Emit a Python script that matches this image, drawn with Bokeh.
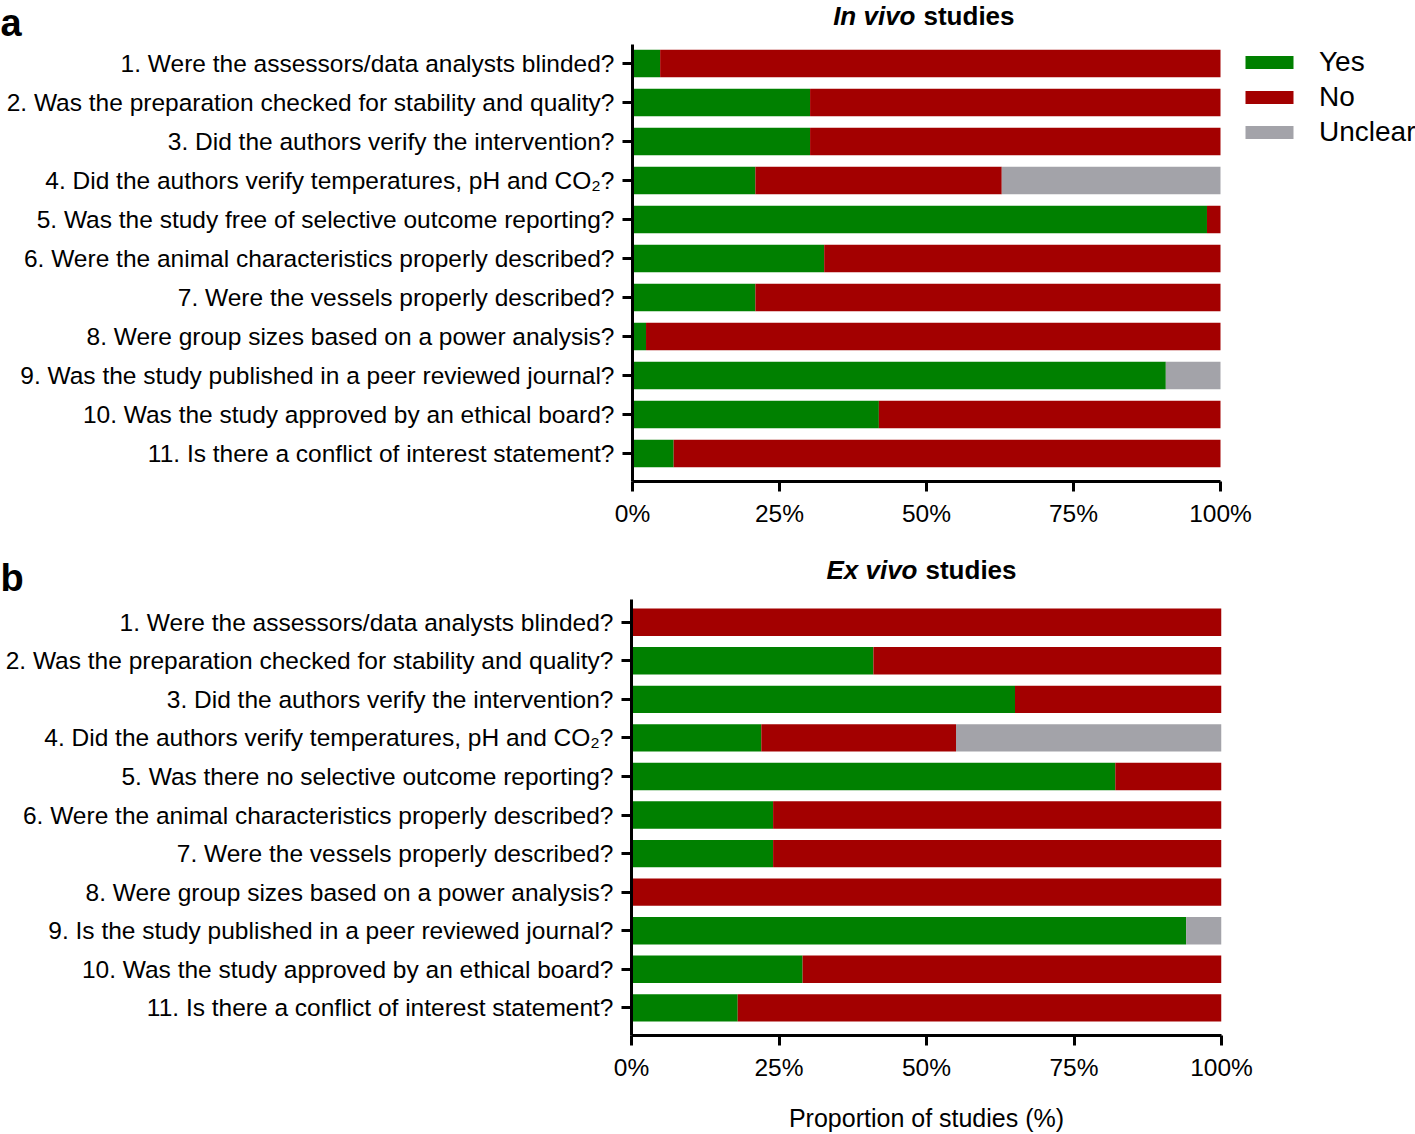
from bokeh.plotting import figure
from bokeh.models import Range1d, FixedTicker, Legend, LegendItem, ColumnDataSource
from bokeh.layouts import column, row
from bokeh.embed import file_html
from bokeh.resources import INLINE
from bokeh.core.properties import value

# ---------------- data ----------------
questions_a = [
    "1. Were the assessors/data analysts blinded?",
    "2. Was the preparation checked for stability and quality?",
    "3. Did the authors verify the intervention?",
    "4. Did the authors verify temperatures, pH and CO\u2082?",
    "5. Was the study free of selective outcome reporting?",
    "6. Were the animal characteristics properly described?",
    "7. Were the vessels properly described?",
    "8. Were group sizes based on a power analysis?",
    "9. Was the study published in a peer reviewed journal?",
    "10. Was the study approved by an ethical board?",
    "11. Is there a conflict of interest statement?",
]
questions_b = [
    "1. Were the assessors/data analysts blinded?",
    "2. Was the preparation checked for stability and quality?",
    "3. Did the authors verify the intervention?",
    "4. Did the authors verify temperatures, pH and CO\u2082?",
    "5. Was there no selective outcome reporting?",
    "6. Were the animal characteristics properly described?",
    "7. Were the vessels properly described?",
    "8. Were group sizes based on a power analysis?",
    "9. Is the study published in a peer reviewed journal?",
    "10. Was the study approved by an ethical board?",
    "11. Is there a conflict of interest statement?",
]
yes_a = [4.7, 30.2, 30.2, 20.9, 97.7, 32.6, 20.9, 2.3, 90.7, 41.9, 7.0]
no_a = [95.3, 69.8, 69.8, 41.9, 2.3, 67.4, 79.1, 97.7, 0.0, 58.1, 93.0]
unclear_a = [0.0, 0.0, 0.0, 37.2, 0.0, 0.0, 0.0, 0.0, 9.3, 0.0, 0.0]

yes_b = [0.0, 41.0, 65.0, 22.0, 82.0, 24.0, 24.0, 0.0, 94.0, 29.0, 18.0]
no_b = [100.0, 59.0, 35.0, 33.0, 18.0, 76.0, 76.0, 100.0, 0.0, 71.0, 82.0]
unclear_b = [0.0, 0.0, 0.0, 45.0, 0.0, 0.0, 0.0, 0.0, 6.0, 0.0, 0.0]

series = ["Yes", "No", "Unclear"]
colors = ["#008000", "#a30000", "#a3a3a9"]
pct_ticks = [0, 25, 50, 75, 100]
pct_labels = ["0%", "25%", "50%", "75%", "100%"]

title_a = ("In vivo", "studies")
title_b = ("Ex vivo", "studies")
x_label = "Proportion of studies (%)"

FONT = "Liberation Sans"
W = 1415


def strip(letter, title, height, title_mid, title_gap_x, letter_mid):
    """Header strip holding the panel letter and the mixed-style title."""
    s = figure(width=W, height=height, x_range=Range1d(0, W),
               y_range=Range1d(height, 0), output_backend="svg",
               toolbar_location=None, x_axis_location=None,
               y_axis_location=None, min_border=0)
    s.outline_line_color = None
    s.xgrid.visible = False
    s.ygrid.visible = False
    s.text(x=[0], y=[letter_mid], text=[letter], text_font=value(FONT),
           text_font_style="bold", text_font_size="38px",
           text_align="left", text_baseline="middle", text_color="black")
    s.text(x=[title_gap_x], y=[title_mid], text=[title[0]],
           text_font=value(FONT), text_font_style="bold italic",
           text_font_size="26px", text_align="right",
           text_baseline="middle", x_offset=-4, text_color="black")
    s.text(x=[title_gap_x], y=[title_mid], text=[title[1]],
           text_font=value(FONT), text_font_style="bold",
           text_font_size="26px", text_align="left",
           text_baseline="middle", x_offset=4, text_color="black")
    return s


def panel(questions, yes, no, unclear, height, x0_px, x100_px, right_px,
          row1_px, step_px, axis_bottom_px, legend_at=None, xlabel=None):
    n = len(questions)
    ppu = (x100_px - x0_px) / 100.0

    def ydat(px):
        return 1 + (px - row1_px) / step_px

    p = figure(width=W, height=height,
               x_range=Range1d(0, (right_px - x0_px) / ppu),
               y_range=Range1d(ydat(axis_bottom_px), ydat(0)),
               output_backend="svg", toolbar_location=None,
               min_border_left=x0_px, min_border_right=W - right_px,
               min_border_top=0, min_border_bottom=height - axis_bottom_px)
    p.outline_line_color = None
    p.xgrid.visible = False
    p.ygrid.visible = False

    src = ColumnDataSource(dict(row=list(range(1, n + 1)), Yes=yes, No=no,
                                Unclear=unclear))
    rs = p.hbar_stack(series, y="row", height=0.71, color=colors,
                      line_color=None, source=src)

    xa = p.xaxis[0]
    xa.ticker = FixedTicker(ticks=pct_ticks)
    xa.major_label_overrides = dict(zip(pct_ticks, pct_labels))
    xa.bounds = (0, 100)
    ya = p.yaxis[0]
    ya.ticker = FixedTicker(ticks=list(range(1, n + 1)))
    ya.major_label_overrides = {i + 1: q for i, q in enumerate(questions)}
    for ax in (xa, ya):
        ax.axis_line_width = 3
        ax.axis_line_color = "black"
        ax.major_tick_line_width = 3
        ax.major_tick_line_color = "black"
        ax.major_tick_out = 10
        ax.major_tick_in = 0
        ax.minor_tick_line_color = None
        ax.major_label_text_font = FONT
        ax.major_label_text_font_size = "24.5px"
        ax.major_label_text_color = "black"
    ya.major_label_standoff = 8
    xa.major_label_standoff = 8
    if xlabel:
        xa.axis_label = xlabel
        xa.axis_label_text_font = FONT
        xa.axis_label_text_font_style = "normal"
        xa.axis_label_text_font_size = "25px"
        xa.axis_label_text_color = "black"
        xa.axis_label_standoff = 20

    if legend_at is not None:
        lx, ly = legend_at
        items = [LegendItem(label=s, renderers=[r]) for s, r in zip(series, rs)]
        lg = Legend(items=items,
                    location=(lx - x0_px, axis_bottom_px - ly),
                    glyph_width=60, glyph_height=16, label_standoff=20,
                    label_height=33, spacing=2, padding=0, margin=0,
                    border_line_color=None, background_fill_alpha=0,
                    label_text_font=FONT, label_text_font_size="28px",
                    label_text_color="black")
        p.add_layout(lg)
    return p


# header strips and panels (page-pixel layout)
top_a = 44
strip_b_h = 51
top_b = 548 + strip_b_h
sa = strip("a", title_a, top_a, 15, 919, 22)
pa = panel(questions_a, yes_a, no_a, unclear_a, 548 - top_a,
           632, 1220, W, 63 - top_a, 39.0, 481 - top_a,
           legend_at=(1239, 148 - top_a))
sb = strip("b", title_b, strip_b_h, 569 - 548, 921, 29)
pb = panel(questions_b, yes_b, no_b, unclear_b, 1134 - top_b,
           631, 1221, 1221, 622 - top_b, 39.1, 1041 - top_b, xlabel=x_label)

layout = column(row(sa), row(pa), row(sb), row(pb), spacing=0)
open("out.html", "w").write(file_html(layout, INLINE))
